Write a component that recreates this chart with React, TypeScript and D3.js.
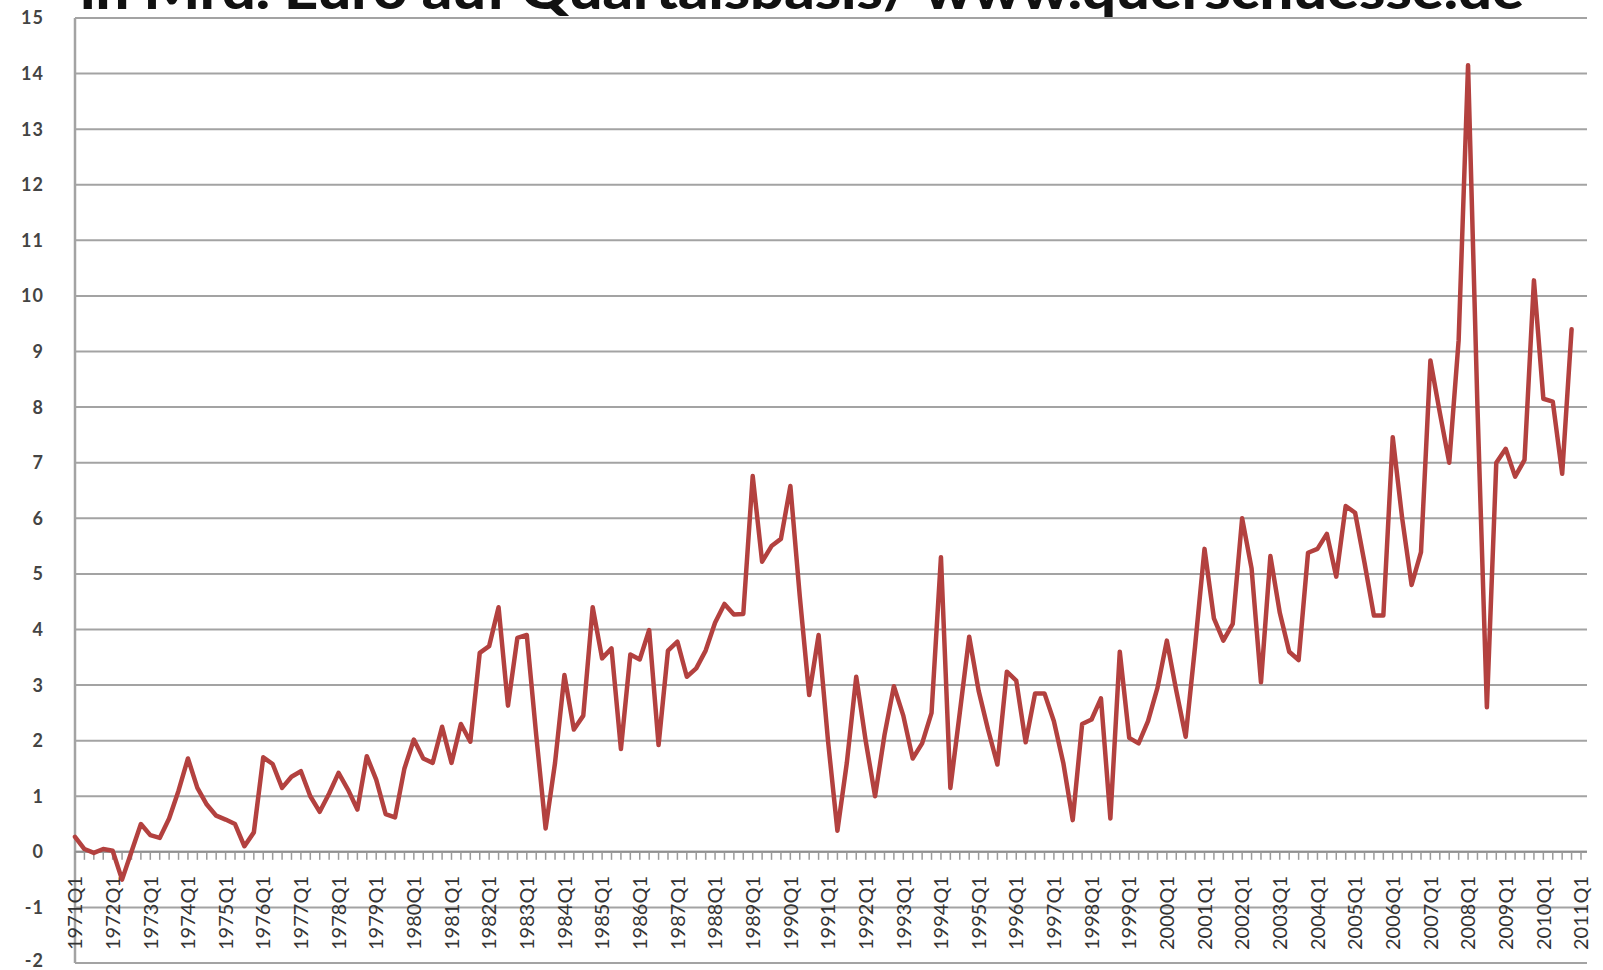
import { useMemo } from "react";
import * as d3 from "d3";

const WIDTH = 1603;
const HEIGHT = 970;

const PLOT = { left: 75, right: 1587, top: 18, bottom: 963, lastCategory: 1581 };

const TITLE = "in Mrd. Euro auf Quartalsbasis/ www.querschuesse.de";

const YEARS = d3.range(1971, 2012);
const QUARTERS = ["Q1", "Q2", "Q3", "Q4"];
// axis runs 1971Q1 .. 2011Q1
const CATEGORIES = YEARS.flatMap((y) => QUARTERS.map((q) => `${y}${q}`)).slice(0, 161);

const Y_TICKS = d3.range(-2, 16);

// one row per year, Q1..Q4 (1971 - 2010)
const VALUES = [
  0.27, 0.05, -0.02, 0.05,
  0.02, -0.5, 0.0, 0.5,
  0.3, 0.25, 0.6, 1.1,
  1.68, 1.15, 0.85, 0.65,
  0.58, 0.5, 0.1, 0.35,
  1.7, 1.58, 1.15, 1.35,
  1.45, 1.0, 0.72, 1.05,
  1.42, 1.12, 0.76, 1.72,
  1.3, 0.68, 0.62, 1.5,
  2.02, 1.68, 1.6, 2.25,
  1.6, 2.3, 1.98, 3.58,
  3.7, 4.4, 2.63, 3.85,
  3.9, 2.1, 0.42, 1.6,
  3.18, 2.2, 2.45, 4.4,
  3.48, 3.66, 1.85, 3.55,
  3.46, 3.99, 1.92, 3.62,
  3.78, 3.15, 3.3, 3.62,
  4.12, 4.46, 4.27, 4.28,
  6.76, 5.22, 5.5, 5.63,
  6.58, 4.6, 2.82, 3.9,
  2.0, 0.38, 1.6, 3.15,
  2.0, 1.0, 2.1, 2.98,
  2.45, 1.68, 1.95, 2.5,
  5.3, 1.15, 2.5, 3.87,
  2.9, 2.2, 1.57, 3.24,
  3.08, 1.97, 2.85, 2.85,
  2.35, 1.6, 0.57, 2.3,
  2.38, 2.76, 0.6, 3.6,
  2.05, 1.95, 2.35, 2.95,
  3.8, 2.9, 2.07, 3.7,
  5.45, 4.2, 3.8, 4.1,
  6.0, 5.1, 3.05, 5.32,
  4.3, 3.6, 3.45, 5.38,
  5.45, 5.72, 4.95, 6.22,
  6.1, 5.2, 4.25, 4.25,
  7.46, 6.0, 4.8, 5.39,
  8.84, 7.9, 7.0, 9.2,
  14.15, 8.0, 2.6, 7.0,
  7.25, 6.75, 7.05, 10.28,
  8.15, 8.1, 6.8, 9.4,
];

const GRID = "#a3a3a3";
const LINE = "#b3413f";
const FONT = "Lato, 'DejaVu Sans', sans-serif";

export default function App() {
  const xScale = useMemo(
    () => d3.scalePoint<string>().domain(CATEGORIES).range([PLOT.left, PLOT.lastCategory]),
    []
  );
  const yScale = useMemo(
    () => d3.scaleLinear().domain([-2, 15]).range([PLOT.bottom, PLOT.top]),
    []
  );

  const path = useMemo(() => {
    const gen = d3
      .line<number>()
      .x((_, i) => xScale(CATEGORIES[i]) as number)
      .y((d) => yScale(d));
    return gen(VALUES) ?? "";
  }, [xScale, yScale]);

  const y0 = yScale(0);

  return (
    <svg
      width={WIDTH}
      height={HEIGHT}
      style={{ position: "absolute", left: 0, top: 0, background: "#fff" }}
    >
      <rect width={WIDTH} height={HEIGHT} fill="#fff" />

      {/* title, cut off at the top like in the screenshot */}
      <text
        x={80}
        y={9}
        fontFamily={FONT}
        fontWeight={900}
        fontSize={54}
        fill="#111"
        textLength={1444}
        lengthAdjust="spacingAndGlyphs"
      >
        {TITLE}
      </text>

      {/* horizontal gridlines */}
      {Y_TICKS.map((t) => (
        <line
          key={t}
          x1={PLOT.left}
          x2={PLOT.right}
          y1={yScale(t)}
          y2={yScale(t)}
          stroke={GRID}
          strokeWidth={2}
        />
      ))}

      {/* left border */}
      <line
        x1={PLOT.left}
        x2={PLOT.left}
        y1={PLOT.top}
        y2={PLOT.bottom}
        stroke={GRID}
        strokeWidth={2.5}
      />

      {/* y labels */}
      {Y_TICKS.map((t) => (
        <text
          key={t}
          x={44}
          y={yScale(t)}
          dy={t === -2 ? "0.2em" : "0.36em"}
          textAnchor="end"
          fontFamily={FONT}
          fontWeight={700}
          fontSize={18}
          letterSpacing={1}
          fill="#444"
        >
          {t}
        </text>
      ))}

      {/* category axis at zero */}
      <line x1={PLOT.left} x2={PLOT.right} y1={y0} y2={y0} stroke="#8f8f8f" strokeWidth={2} />
      {CATEGORIES.map((c) => (
        <line
          key={c}
          x1={xScale(c)}
          x2={xScale(c)}
          y1={y0}
          y2={y0 + 8}
          stroke="#9a9a9a"
          strokeWidth={1.5}
        />
      ))}
      {CATEGORIES.filter((c) => c.endsWith("Q1")).map((c) => (
        <text
          key={c}
          transform={`translate(${xScale(c)},${876}) rotate(-90)`}
          dy="0.36em"
          textAnchor="end"
          fontFamily={FONT}
          fontSize={20}
          fill="#333"
        >
          {c}
        </text>
      ))}

      <path
        d={path}
        fill="none"
        stroke={LINE}
        strokeWidth={4.5}
        strokeLinejoin="round"
        strokeLinecap="round"
      />
    </svg>
  );
}
